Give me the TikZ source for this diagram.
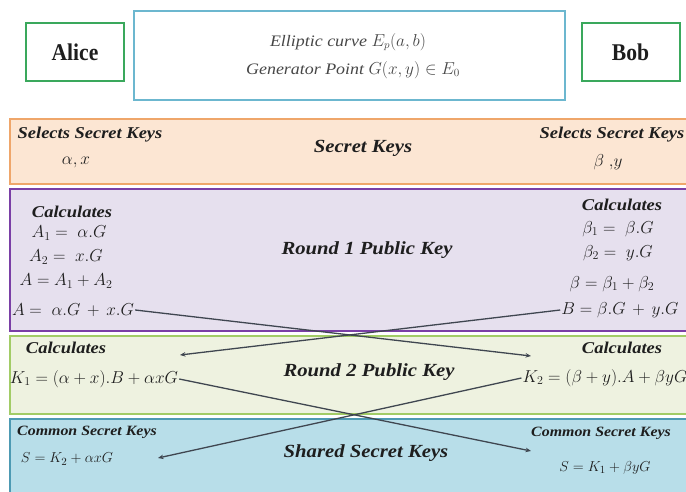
\documentclass[tikz,border=0pt]{standalone}
\usepackage[no-math]{fontspec}
\setmainfont{Liberation Serif}
\newfontfamily\lblfont{Liberation Serif}[FakeStretch=1.12]
\newfontfamily\namefont{Liberation Serif}[FakeStretch=0.9]
\usetikzlibrary{arrows.meta}

\definecolor{ink}{HTML}{1E1E1E}
\definecolor{greytext}{HTML}{474747}
\definecolor{nameedge}{HTML}{3AA85C}
\definecolor{curveedge}{HTML}{6CB7CF}
\definecolor{orfill}{HTML}{FCE6D3}
\definecolor{oredge}{HTML}{EFA66A}
\definecolor{pufill}{HTML}{E6E0EE}
\definecolor{puedge}{HTML}{7A3FA6}
\definecolor{grfill}{HTML}{EEF2E0}
\definecolor{gredge}{HTML}{A2CC66}
\definecolor{blfill}{HTML}{B8DEE9}
\definecolor{bledge}{HTML}{4D9AB3}
\definecolor{wire}{HTML}{3F4650}

\tikzset{
  band/.style={draw, line width=2.4pt, minimum width=690pt, anchor=north west, inner sep=0pt},
  namebox/.style={draw=nameedge, line width=2pt, fill=white, minimum width=98pt, minimum height=58pt,
    font=\namefont\bfseries\fontsize{24}{26}\selectfont, text=ink},
  curvebox/.style={draw=curveedge, line width=2pt, fill=white, minimum width=431pt, minimum height=89pt},
  midtxt/.style={font=\lblfont\itshape\fontsize{16}{18}\selectfont, text=greytext, inner sep=1pt},
  lbl/.style={font=\lblfont\bfseries\itshape\fontsize{16.5}{18}\selectfont, text=ink, inner sep=1pt},
  smalllbl/.style={font=\lblfont\bfseries\itshape\fontsize{14.2}{16}\selectfont, text=ink, inner sep=1pt},
  title/.style={font=\lblfont\bfseries\itshape\fontsize{18.5}{20}\selectfont, text=ink, inner sep=1pt},
  eq/.style={font=\fontsize{17}{19}\selectfont, text=ink, inner sep=1pt},
  eqsmall/.style={font=\fontsize{15.5}{17}\selectfont, text=ink, inner sep=1pt},
  link/.style={draw=wire, line width=1.3pt, -{Stealth[length=5.5pt,width=4.5pt]}},
}

\begin{document}
\begin{tikzpicture}[x=1pt,y=-1pt]
\useasboundingbox (0,0) rectangle (686,492);

% header: parties and public parameters
\node[namebox] (alice) at (75,52) {Alice};
\node[namebox] (bob) at (630.5,52) {Bob};
\node[curvebox] (params) at (349.5,55.5) {};
\node[midtxt] (curve) at (348,42) {Elliptic curve $E_p(a,b)$};
\node[midtxt] (gen) at (353,70) {Generator Point $G(x,y) \in E_0$};

% protocol stages
\node[band, fill=orfill, draw=oredge, minimum height=65pt] (stage0) at (9,118) {};
\node[band, fill=pufill, draw=puedge, minimum height=142pt] (stage1) at (9,188) {};
\node[band, fill=grfill, draw=gredge, minimum height=78pt] (stage2) at (9,335) {};
\node[band, fill=blfill, draw=bledge, minimum height=90pt] (stage3) at (9,418) {};

% secret keys
\node[lbl] (selA) at (90,135) {Selects Secret Keys};
\node[eq] (keysA) at (76,162) {$\alpha,x$};
\node[title] (t0) at (363,148) {Secret Keys};
\node[lbl] (selB) at (612,135) {Selects Secret Keys};
\node[eq] (keysB) at (608,162) {$\beta\;{,}y$};

% round 1
\node[lbl] (calcA1) at (72,212) {Calculates};
\node[eq] (a1) at (69,233) {$A_1 =\; \alpha.G$};
\node[eq] (a2) at (66,257) {$A_2 =\; x.G$};
\node[eq] (asum) at (66,281) {$A = A_1 + A_2$};
\node[eq] (afull) at (73,310) {$A =\; \alpha.G \,+\, x.G$};
\node[title] (t1) at (367,250) {Round 1 Public Key};
\node[lbl] (calcB1) at (622,205) {Calculates};
\node[eq] (b1) at (618,229) {$\beta_1 =\; \beta.G$};
\node[eq] (b2) at (618,253) {$\beta_2 =\; y.G$};
\node[eq] (bsum) at (612,284) {$\beta = \beta_1 + \beta_2$};
\node[eq] (bfull) at (620,310) {$B = \beta.G \,+\, y.G$};

% round 2
\node[lbl] (calcA2) at (66,348) {Calculates};
\node[eq] (k1) at (94,379) {$K_1 = (\alpha + x).B + \alpha x G$};
\node[title] (t2) at (369,372) {Round 2 Public Key};
\node[lbl] (calcB2) at (622,348) {Calculates};
\node[eq] (k2) at (605,378) {$K_2 = (\beta + y).A + \beta y G$};

% shared secret
\node[smalllbl] (comA) at (87,432) {Common Secret Keys};
\node[eqsmall] (sA) at (67,459) {$S = K_2 + \alpha x G$};
\node[title] (t3) at (366,453) {Shared Secret Keys};
\node[smalllbl] (comB) at (601,433) {Common Secret Keys};
\node[eqsmall] (sB) at (605,468) {$S = K_1 + \beta y G$};

% exchanged values
\coordinate (inB2) at (531,356);
\coordinate (inA2) at (180,355);
\coordinate (inB3) at (531,451);
\coordinate (inA3) at (158,458);
\draw[link] (afull.east) -- (inB2);
\draw[link] (bfull.west) -- (inA2);
\draw[link] (k1.east) -- (inB3);
\draw[link] (k2.west) -- (inA3);
\end{tikzpicture}
\end{document}
